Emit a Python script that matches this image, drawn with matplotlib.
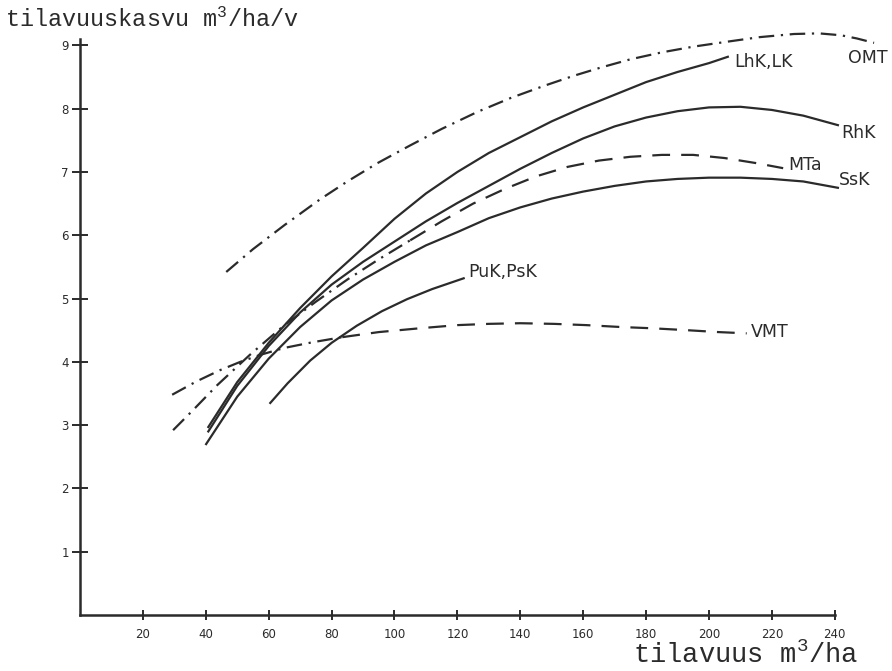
import matplotlib
matplotlib.use("Agg")
import matplotlib.pyplot as plt

plt.rcParams["mathtext.fontset"] = "custom"
plt.rcParams["mathtext.rm"] = "Liberation Mono"
plt.rcParams["mathtext.it"] = "Liberation Mono"

# curves (x = tilavuus m3/ha, y = kasvu m3/ha/v)
omt_x = [46.5, 55, 65, 76.4, 85, 94.6, 105, 115, 126.4, 137, 147.5, 157, 165.6,
         175, 185, 195, 206, 216, 227, 235, 242, 247, 252.5]
omt_y = [5.42, 5.78, 6.16, 6.57, 6.85, 7.14, 7.42, 7.68, 7.95, 8.17, 8.36, 8.52, 8.65,
         8.78, 8.89, 8.98, 9.06, 9.13, 9.18, 9.19, 9.16, 9.11, 9.04]

lhk_x = [40.8, 50, 60, 70, 80, 90, 100, 110, 120, 130, 140, 150, 160, 170, 180,
         190, 200, 206]
lhk_y = [2.97, 3.68, 4.30, 4.85, 5.35, 5.80, 6.26, 6.66, 7.00, 7.30, 7.55, 7.80, 8.02,
         8.22, 8.42, 8.58, 8.72, 8.82]

rhk_x = [40.8, 50, 60, 70, 80, 90, 100, 110, 120, 130, 140, 150, 160, 170, 180,
         190, 200, 210, 220, 230, 241]
rhk_y = [2.90, 3.62, 4.25, 4.78, 5.22, 5.58, 5.90, 6.22, 6.51, 6.78, 7.05, 7.30, 7.53,
         7.72, 7.86, 7.96, 8.02, 8.03, 7.98, 7.89, 7.74]

ssk_x = [40.1, 50, 60, 70, 80, 90, 100, 110, 120, 130, 140, 150, 160, 170, 180,
         190, 200, 210, 220, 230, 241]
ssk_y = [2.70, 3.45, 4.05, 4.55, 4.97, 5.30, 5.58, 5.84, 6.05, 6.27, 6.44, 6.58, 6.69,
         6.78, 6.85, 6.89, 6.91, 6.91, 6.89, 6.85, 6.75]

mta_dd_x = [29.6, 36, 43.6, 54, 65, 75, 85, 95, 105]
mta_dd_y = [2.92, 3.24, 3.63, 4.11, 4.58, 4.95, 5.30, 5.62, 5.92]
mta_da_x = [105, 115, 125, 135, 145, 155, 165, 175, 185, 195, 205, 215, 223.6]
mta_da_y = [5.92, 6.22, 6.50, 6.73, 6.93, 7.08, 7.18, 7.24, 7.27, 7.27, 7.22, 7.14, 7.06]

vmt_dd_x = [29.3, 37, 44.6, 51, 57.3, 65, 74, 83.4]
vmt_dd_y = [3.48, 3.69, 3.87, 4.00, 4.11, 4.22, 4.31, 4.39]
vmt_da_x = [83.4, 95, 108, 120, 130, 140, 150.6, 161, 172, 182, 193, 203, 212]
vmt_da_y = [4.39, 4.47, 4.53, 4.58, 4.60, 4.61, 4.60, 4.58, 4.55, 4.53, 4.50, 4.47, 4.45]

puk_x = [60.5, 66, 73.2, 80, 88, 96, 104, 112, 122]
puk_y = [3.35, 3.66, 4.02, 4.30, 4.57, 4.80, 4.99, 5.15, 5.32]

x_ticks = [20, 40, 60, 80, 100, 120, 140, 160, 180, 200, 220, 240]
y_ticks = [1, 2, 3, 4, 5, 6, 7, 8, 9]

ink = "#2b2b2b"
lw = 1.6
dashdot = (7, 3, 1, 3)
dashed = (8, 5)

fig = plt.figure(figsize=(8.92, 6.71), dpi=100)
ax = fig.add_axes([0.0897, 0.0835, 0.899, 0.896])

style = dict(color=ink, lw=lw, solid_joinstyle="round", dash_joinstyle="round")
ax.plot(omt_x, omt_y, dashes=dashdot, **style)
ax.plot(lhk_x, lhk_y, **style)
ax.plot(rhk_x, rhk_y, **style)
ax.plot(ssk_x, ssk_y, **style)
ax.plot(mta_dd_x, mta_dd_y, dashes=dashdot, **style)
ax.plot(mta_da_x, mta_da_y, dashes=dashed, **style)
ax.plot(vmt_dd_x, vmt_dd_y, dashes=dashdot, **style)
ax.plot(vmt_da_x, vmt_da_y, dashes=dashed, **style)
ax.plot(puk_x, puk_y, **style)

lab = dict(fontsize=12.5, color=ink, family="DejaVu Sans", va="center", ha="left")
ax.text(208, 8.74, "LhK,LK", **lab)
ax.text(244.3, 8.80, "OMT", **lab)
ax.text(242, 7.61, "RhK", **lab)
ax.text(225.3, 7.11, "MTa", **lab)
ax.text(241.4, 6.87, "SsK", **lab)
ax.text(123.6, 5.42, "PuK,PsK", **lab)
ax.text(213.4, 4.47, "VMT", **lab)

ax.set_xlim(0, 255)
ax.set_ylim(0, 9.5)
ax.spines["top"].set_visible(False)
ax.spines["right"].set_visible(False)
ax.spines["left"].set_bounds(0, 9.1)
ax.spines["bottom"].set_bounds(0, 240)
for s in ("left", "bottom"):
    ax.spines[s].set_linewidth(1.8)
    ax.spines[s].set_color(ink)

ax.set_xticks(x_ticks)
ax.set_yticks(y_ticks)
ax.tick_params(axis="x", direction="inout", length=7, width=1.4, colors=ink,
               labelsize=8.5, pad=6)
ax.tick_params(axis="y", direction="inout", length=12, width=1.4, colors=ink,
               labelsize=8.5, pad=2)

fig.text(0.006, 0.96, r"tilavuuskasvu m$^{3}$/ha/v", family="Liberation Mono",
         fontsize=16.9, color=ink, va="baseline", ha="left")
fig.text(0.962, 0.012, r"tilavuus m$^{3}$/ha", family="Liberation Mono",
         fontsize=19.5, color=ink, va="baseline", ha="right")

fig.savefig("out.png", dpi=100)
